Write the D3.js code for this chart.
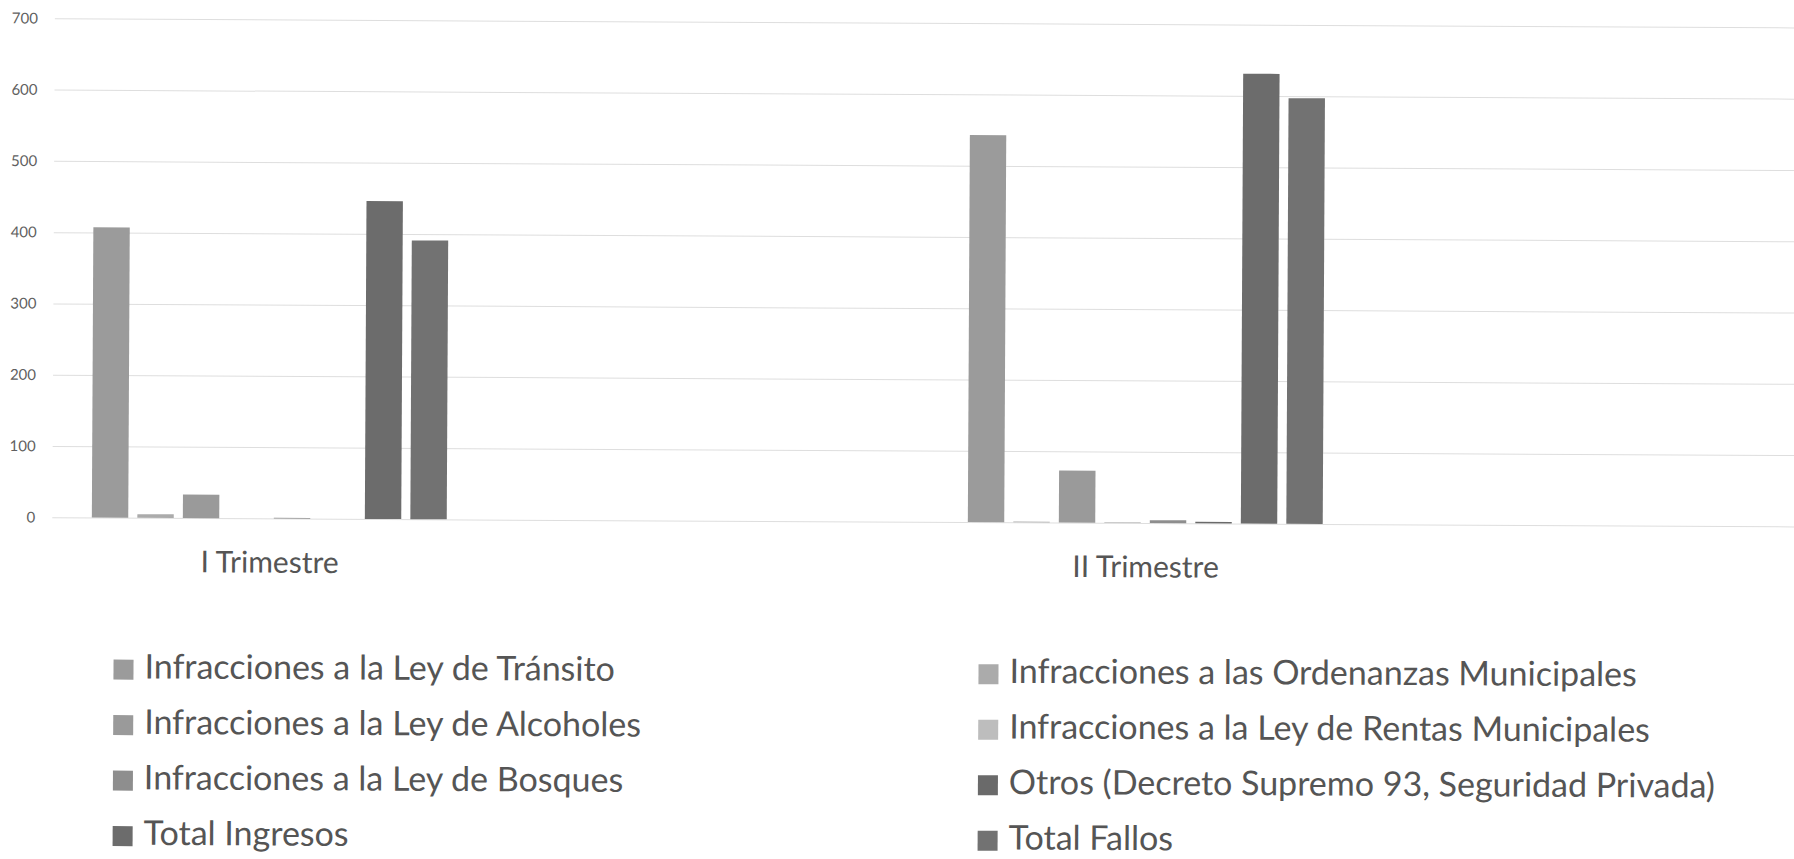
<!DOCTYPE html>
<html>
<head>
<meta charset="utf-8">
<script src="https://cdn.jsdelivr.net/npm/d3@7"></script>
<style>
    body { margin: 0; background: #fff; }
    svg { display: block; }
</style>
</head>
<body>
<svg id="chart" width="1794" height="859"></svg>
<script>
// quarters and series
var quarters = ["I Trimestre", "II Trimestre"];
var series = [
    "Infracciones a la Ley de Tránsito",
    "Infracciones a las Ordenanzas Municipales",
    "Infracciones a la Ley de Alcoholes",
    "Infracciones a la Ley de Rentas Municipales",
    "Infracciones a la Ley de Bosques",
    "Otros (Decreto Supremo 93, Seguridad Privada)",
    "Total Ingresos",
    "Total Fallos"
];
var transito   = [407, 543];
var ordenanzas = [5, 1];
var alcoholes  = [33, 73];
var rentas     = [0, 1];
var bosques    = [1, 4];
var otros      = [0, 2];
var ingresos   = [446, 631];
var fallos     = [391, 597];
var yTicks = [0, 100, 200, 300, 400, 500, 600, 700];

var values = [transito, ordenanzas, alcoholes, rentas, bosques, otros, ingresos, fallos];
var colors = ["#9b9b9b", "#ababab", "#9a9a9a", "#bdbdbd", "#8e8e8e", "#6a6a6a", "#6c6c6c", "#727272"];

var plot_left = 55, plot_right = 1810, plot_top = 18, plot_bottom = 517;

var svg = d3.select("#chart");
// the scan is slightly tilted
var g = svg.append("g").attr("transform", "rotate(0.3)");

var y = d3.scaleLinear().domain([0, 700]).range([plot_bottom, plot_top]);
var x0 = d3.scalePoint().domain(quarters).range([272, 1148]);
var x1 = d3.scaleBand().domain(d3.range(series.length)).range([-182, 182]).paddingInner(0.2).paddingOuter(0.1);

var yAxis = g.append("g")
    .attr("transform", "translate(" + plot_left + ",0)")
    .call(d3.axisLeft(y).tickValues(yTicks).tickSize(-(plot_right - plot_left)).tickPadding(17));
yAxis.select(".domain").remove();
yAxis.selectAll(".tick line").attr("stroke", "#dedede").attr("stroke-width", 1);
yAxis.selectAll(".tick text")
    .attr("fill", "#606060")
    .attr("font-family", "Lato")
    .attr("font-size", "15px");

var groups = g.append("g")
    .selectAll("g")
    .data(quarters)
    .enter()
    .append("g")
    .attr("transform", function(d) {
        return "translate(" + x0(d) + ",0)";
    });

groups.selectAll("rect")
    .data(function(d, qi) {
        return values.map(function(v, si) { return {s: si, v: v[qi]}; });
    })
    .enter()
    .append("rect")
    .attr("x", function(d) { return x1(d.s); })
    .attr("width", x1.bandwidth())
    .attr("y", function(d) { return y(d.v); })
    .attr("height", function(d) { return y(0) - y(d.v); })
    .attr("fill", function(d) { return colors[d.s]; });

var xAxis = g.append("g")
    .attr("transform", "translate(0," + plot_bottom + ")")
    .call(d3.axisBottom(x0).tickSize(0).tickPadding(33));
xAxis.select(".domain").remove();
xAxis.selectAll(".tick text")
    .attr("fill", "#555")
    .attr("font-family", "Lato")
    .attr("font-size", "30px");

// legend: two columns, row-major
var legend = g.append("g")
    .selectAll("g")
    .data(series)
    .enter()
    .append("g")
    .attr("transform", function(d, i) {
        var col = i % 2, row = Math.floor(i / 2);
        return "translate(" + (col == 0 ? 117 : 982) + "," + (669 + row * 55.5) + ")";
    });
legend.append("rect")
    .attr("x", 0)
    .attr("y", -10)
    .attr("width", 20)
    .attr("height", 20)
    .attr("fill", function(d, i) { return colors[i]; });
legend.append("text")
    .attr("x", 31)
    .attr("y", 0)
    .attr("dominant-baseline", "middle")
    .attr("fill", "#555")
    .attr("font-family", "Lato")
    .attr("font-size", "34px")
    .text(function(d) { return d; });
</script>
</body>
</html>
